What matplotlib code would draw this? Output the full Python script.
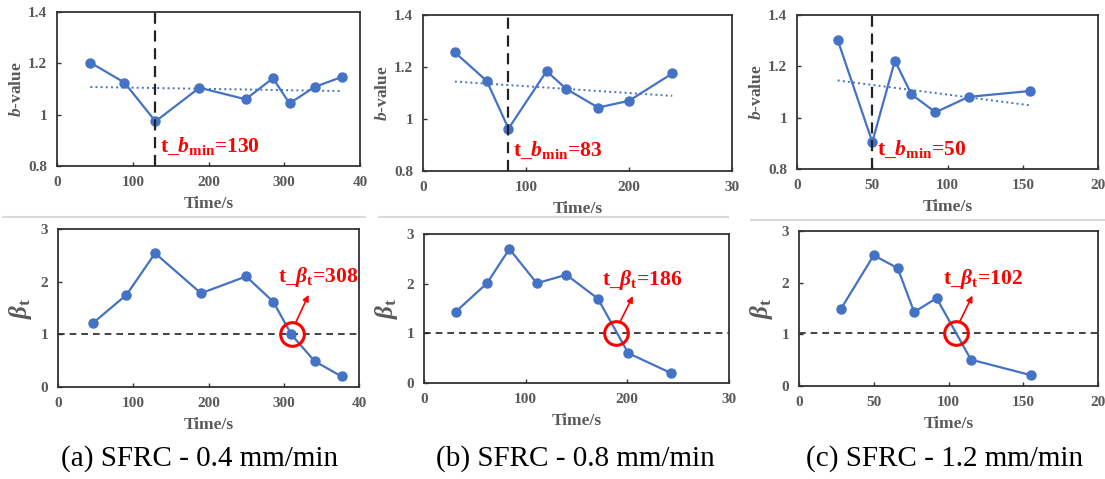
import matplotlib
matplotlib.use("Agg")
import matplotlib.pyplot as plt
from matplotlib.ticker import FuncFormatter

plt.rcParams["font.family"] = "Liberation Serif"
plt.rcParams["mathtext.fontset"] = "custom"
plt.rcParams["mathtext.rm"] = "Liberation Serif:bold"
plt.rcParams["mathtext.it"] = "Liberation Serif:italic:bold"
plt.rcParams["mathtext.bf"] = "Liberation Serif:bold"

# ---- data ----
captions = ["(a) SFRC - 0.4 mm/min", "(b) SFRC - 0.8 mm/min", "(c) SFRC - 1.2 mm/min"]
x_max = [400, 300, 200]
x_ticks = [[0, 100, 200, 300, 400], [0, 100, 200, 300], [0, 50, 100, 150, 200]]
x_ticklabels = [["0", "100", "200", "300", "40"], ["0", "100", "200", "30"],
                ["0", "50", "100", "150", "20"]]

# b-value series
b_time_a = [44, 89, 130, 188, 249, 285, 307, 340, 376]
b_val_a = [1.203, 1.125, 0.974, 1.105, 1.060, 1.142, 1.044, 1.108, 1.147]
b_time_b = [31, 62, 83, 120, 139, 170, 200, 242]
b_val_b = [1.256, 1.146, 0.963, 1.184, 1.116, 1.044, 1.070, 1.175]
b_time_c = [27, 50, 65, 76, 92, 114, 155]
b_val_c = [1.303, 0.905, 1.222, 1.091, 1.021, 1.081, 1.104]
b_trend = [(1.108, 1.092), (1.144, 1.089), (1.145, 1.048)]
t_bmin = [130, 83, 50]

# beta_t series
bt_time_a = [46, 91, 129, 190, 250, 286, 310, 341, 377]
bt_val_a = [1.21, 1.75, 2.54, 1.78, 2.10, 1.62, 1.00, 0.49, 0.20]
bt_time_b = [31, 62, 84, 111, 140, 171, 201, 243]
bt_val_b = [1.43, 2.01, 2.70, 2.01, 2.18, 1.70, 0.60, 0.20]
bt_time_c = [28, 50, 66, 77, 92, 115, 155]
bt_val_c = [1.49, 2.53, 2.28, 1.43, 1.70, 0.51, 0.21]
beta_level = [1.0, 1.0, 1.02]
t_beta = [308, 186, 102]
cross_pt = [(311, 1.0), (189, 1.0), (105, 1.02)]

b_series = [(b_time_a, b_val_a), (b_time_b, b_val_b), (b_time_c, b_val_c)]
bt_series = [(bt_time_a, bt_val_a), (bt_time_b, bt_val_b), (bt_time_c, bt_val_c)]

BLUE = "#4472C4"
RED = "#FF0000"
GRAY = "#595959"

top_pos = [[0.0516, 0.6534, 0.2742, 0.3215],
           [0.3828, 0.6430, 0.2796, 0.3257],
           [0.7213, 0.6472, 0.2724, 0.3215]]
bot_pos = [[0.0525, 0.1920, 0.2724, 0.3299],
           [0.3837, 0.2004, 0.2760, 0.3110],
           [0.7231, 0.1942, 0.2706, 0.3236]]
sep = [(0.003, 0.330, 0.547), (0.343, 0.659, 0.547), (0.680, 1.0, 0.541)]
cap_x = [0.181, 0.521, 0.855]

fig = plt.figure(figsize=(11.05, 4.79), dpi=100)
fmt = FuncFormatter(lambda v, p: f"{v:g}")


def style(ax, i):
    ax.set_xlim(0, x_max[i])
    ax.set_xticks(x_ticks[i])
    ax.set_xticklabels(x_ticklabels[i])
    ax.tick_params(direction="in", length=3, width=1, colors="#333333",
                   labelcolor=GRAY, labelsize=11, pad=7)
    for lab in ax.get_xticklabels() + ax.get_yticklabels():
        lab.set_fontweight("bold")
    for s in ax.spines.values():
        s.set_color("#333333")
        s.set_linewidth(1.3)
    ax.set_xlabel("Time/s", fontsize=12.5, fontweight="bold", color=GRAY, labelpad=5)


for i in range(3):
    # ---- b-value panel ----
    ax = fig.add_axes(top_pos[i])
    t, v = b_series[i]
    ax.plot(t, v, "-o", color=BLUE, lw=1.6, ms=6.5, zorder=3)
    ax.plot([t[0], t[-1]], list(b_trend[i]), ":", color=BLUE, lw=1.4, zorder=2)
    ax.axvline(t_bmin[i], color="#222222", ls=(0, (5, 3)), lw=1.6, zorder=4)
    ax.set_ylim(0.8, 1.4)
    ax.set_yticks([0.8, 1.0, 1.2, 1.4])
    ax.yaxis.set_major_formatter(fmt)
    style(ax, i)
    ax.set_ylabel("$b$-value", fontsize=12.5, fontweight="bold", color=GRAY, labelpad=2)
    ax.text(t_bmin[i] + x_max[i] * 0.015, 0.878,
            r"t_$b_{\mathrm{min}}$=%d" % t_bmin[i], fontweight="bold",
            color=RED, fontsize=15.5, va="center", ha="left")

    # ---- beta_t panel ----
    ax = fig.add_axes(bot_pos[i])
    t, v = bt_series[i]
    ax.axhline(beta_level[i], color="#222222", ls=(0, (4, 3)), lw=1.2, zorder=2)
    ax.plot(t, v, "-o", color=BLUE, lw=1.6, ms=6.5, zorder=3)
    cx, cy = cross_pt[i]
    ax.plot([cx], [cy], "o", ms=17, mfc="none", mec=RED, mew=2.2, zorder=5)
    ax.annotate("", xy=(cx + x_max[i] * 0.055, 1.75),
                xytext=(cx + x_max[i] * 0.012, cy + 0.22),
                arrowprops=dict(arrowstyle="-|>", color=RED, lw=1.2,
                                mutation_scale=9, shrinkA=0, shrinkB=0))
    ax.text(cx - x_max[i] * 0.045, 2.08,
            r"t_$\beta_{\mathrm{t}}$=%d" % t_beta[i], fontweight="bold",
            color=RED, fontsize=15.5, va="center", ha="left", zorder=6)
    ax.set_ylim(0, 3)
    ax.set_yticks([0, 1, 2, 3])
    style(ax, i)
    ax.set_ylabel(r"$\beta_{\mathrm{t}}$", fontsize=18, color=GRAY, labelpad=5)

    # separator and caption
    x0, x1, y = sep[i]
    fig.add_artist(plt.Line2D([x0, x1], [y, y], color="#D9D9D9", lw=1.5))
    fig.text(cap_x[i], 0.042, captions[i], fontsize=21, ha="center", va="center")

fig.savefig("out.png", dpi=100)
